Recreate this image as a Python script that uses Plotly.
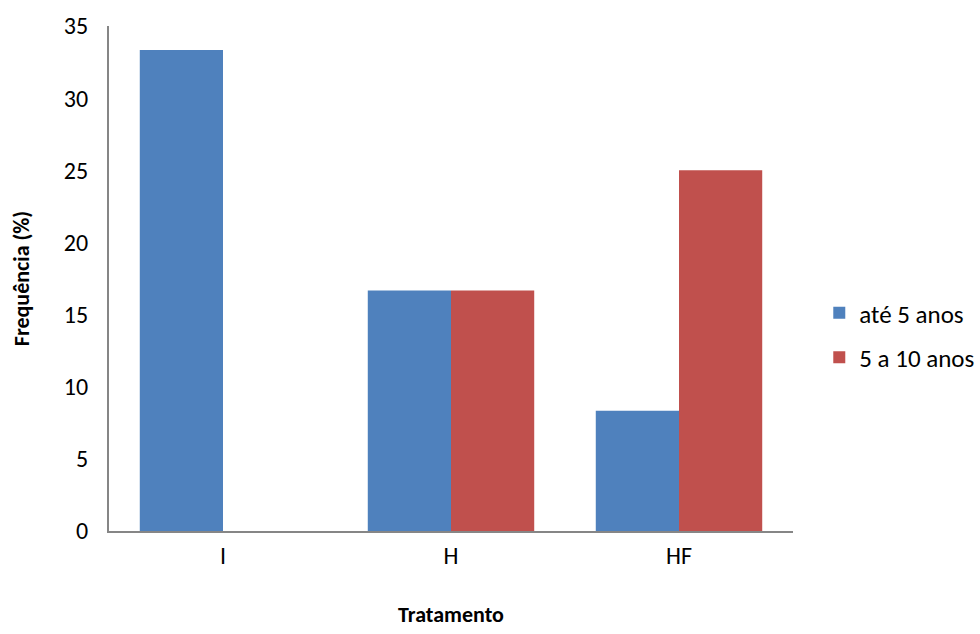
import plotly.graph_objects as go

categories = ["I", "H", "HF"]
series_names = ["até 5 anos", "5 a 10 anos"]
ate5 = [33.33, 16.67, 8.33]
de5a10 = [0, 16.67, 25.0]
y_ticks = [0, 5, 10, 15, 20, 25, 30, 35]

FONT = "Carlito, Calibri, Lato, sans-serif"

fig = go.Figure()
fig.add_trace(go.Bar(x=categories, y=ate5, name=series_names[0],
                     marker=dict(color="#4F81BD", line=dict(width=0)),
                     legendgroup="a"))
fig.add_trace(go.Bar(x=categories, y=de5a10, name=series_names[1],
                     marker=dict(color="#C0504D", line=dict(width=0)),
                     legendgroup="b"))

fig.update_layout(
    width=980, height=634,
    margin=dict(l=109, r=187, t=26, b=103, autoexpand=False),
    paper_bgcolor="white", plot_bgcolor="white",
    barmode="group", bargap=0.27, bargroupgap=0,
    font=dict(family=FONT, size=24, color="#000000"),
    showlegend=True,
    legend=dict(x=0.836, y=0.4716, xref="container", yref="container",
                xanchor="left", yanchor="middle",
                font=dict(size=25), tracegroupgap=9, itemwidth=30,
                bgcolor="rgba(0,0,0,0)"),
    xaxis=dict(showline=True, linecolor="#868686", linewidth=2, ticks="",
               showgrid=False, tickfont=dict(size=24), ticklabelstandoff=2,
               automargin=False,
               title=dict(text="<b>Tratamento</b>", font=dict(size=22), standoff=38)),
    yaxis=dict(range=[0, 35], tickvals=y_ticks, showline=True, linecolor="#868686",
               linewidth=2, ticks="", showgrid=False, zeroline=False,
               tickfont=dict(size=24), ticklabelstandoff=14, automargin=False,
               title=dict(text="<b>Frequência (%)</b>", font=dict(size=22), standoff=28)),
)

fig.write_html("out.html")
